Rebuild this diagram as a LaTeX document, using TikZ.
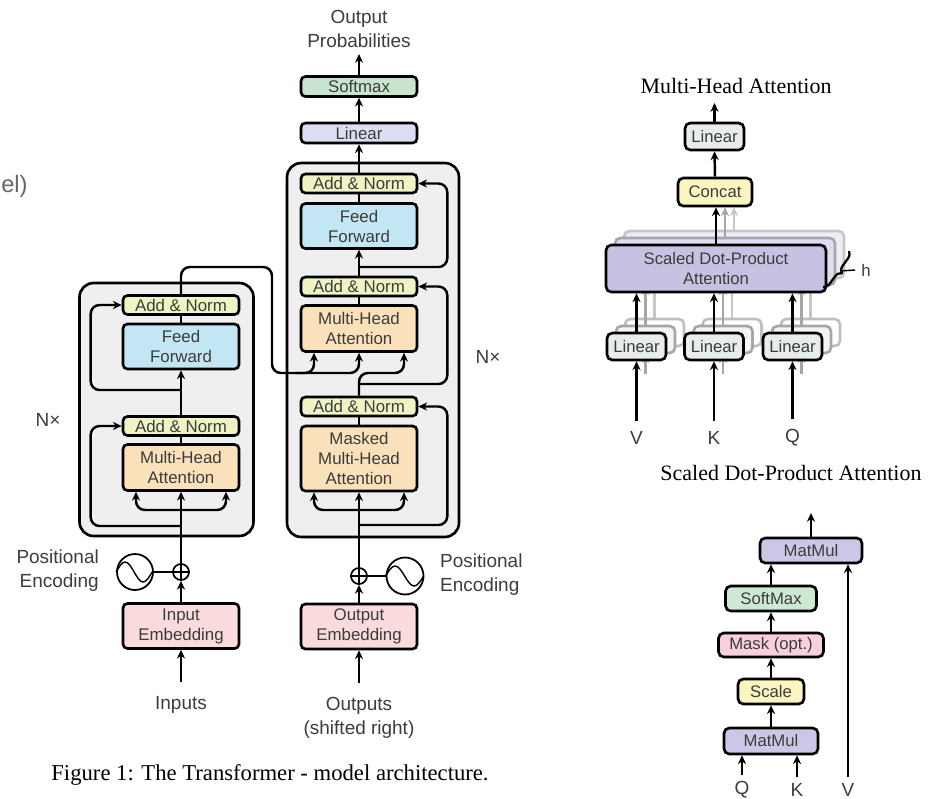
\documentclass[tikz,border=0pt]{standalone}
\usepackage{fontspec}
\setmainfont{Liberation Serif}
\newfontfamily\helv{Liberation Sans}
\usepackage{xcolor}
\usetikzlibrary{arrows.meta, positioning, calc, decorations.pathreplacing}
\definecolor{addnormyellow}{RGB}{240, 243, 196}
\definecolor{ffblue}{RGB}{195, 230, 245}
\definecolor{attnorange}{RGB}{251, 225, 186}
\definecolor{embpink}{RGB}{249, 218, 221}
\definecolor{softgreen}{RGB}{201, 228, 206}
\definecolor{linlavender}{RGB}{219, 222, 240}
\definecolor{stackgray}{RGB}{239, 239, 239}
\definecolor{txtgray}{RGB}{60, 60, 60}
\definecolor{lingray}{RGB}{232, 236, 235}
\definecolor{concatyellow}{RGB}{251, 245, 192}
\definecolor{sdpapurple}{RGB}{201, 193, 226}
\definecolor{maskpink}{RGB}{247, 208, 220}
\definecolor{matpurple}{RGB}{205, 198, 230}
\definecolor{sdgreen}{RGB}{205, 232, 211}
\newcommand{\boxfont}{\helv\fontsize{9.6}{11.4}\selectfont}
\newcommand{\lblfont}{\helv\fontsize{10.8}{13.6}\selectfont}
\newcommand{\mhfont}{\helv\fontsize{9.5}{11.4}\selectfont}
\newcommand{\headfont}{\rmfamily\fontsize{12.5}{15}\selectfont}

\begin{document}
\begin{tikzpicture}[
    x=0.02cm, y=-0.02cm,
    block/.style={rectangle, rounded corners=2.5pt, draw=black, line width=1.5pt, text=txtgray,
                  align=center, inner sep=0pt, font=\boxfont},
    enc/.style={block, minimum width=2.32cm},
    addnorm/.style={enc, fill=addnormyellow, minimum height=0.38cm},
    feedfwd/.style={enc, fill=ffblue, minimum height=0.9cm},
    attn/.style={enc, fill=attnorange, minimum height=0.92cm},
    embbox/.style={enc, fill=embpink, minimum height=0.9cm},
    encstack/.style={rectangle, rounded corners=8pt, draw=black, line width=1.5pt, fill=stackgray},
    mhbox/.style={block, rounded corners=3pt, font=\mhfont},
    conn/.style={line width=1.4pt, rounded corners=5pt},
    flow/.style={conn, -{Stealth[length=5pt, width=4.6pt]}},
    lbl/.style={font=\lblfont, text=txtgray, align=center},
    ring/.style={circle, draw=black, line width=1pt, inner sep=0pt}
]
    \useasboundingbox (0,0) rectangle (938,799);

    % Cut-off text at the left border
    \node[font=\helv\fontsize{13.5}{16}\selectfont, text=black!60, anchor=east, inner sep=0pt] (cutText) at (28,186) {el)};

    % Encoder
    \node[encstack, minimum width=3.48cm, minimum height=5.06cm] (encStack) at (166.5,409.5) {};
    \node[addnorm] (encAdd2) at (181,305) {Add \& Norm};
    \node[feedfwd] (encFF) at (181,346.5) {Feed\\Forward};
    \node[addnorm] (encAdd1) at (181,426) {Add \& Norm};
    \node[attn] (encMHA) at (181,467.5) {Multi-Head\\Attention};
    \node[embbox] (inEmb) at (181,626) {Input\\Embedding};
    \node[ring, minimum size=0.32cm] (encPlus) at (181,572) {};
    \node[ring, minimum size=0.72cm] (encSine) at (135,572) {};
    \draw[line width=0.8pt] (encPlus.north) -- (encPlus.south) (encPlus.west) -- (encPlus.east);
    \draw[line width=0.8pt] (encSine.west) sin ++(9,-10) cos ++(9,10) sin ++(9,10) cos ++(9,-10);
    \node[lbl, anchor=north] (inputs) at (181,690) {Inputs};
    \node[lbl, align=right, anchor=east] (encPos) at (105,571) {Positional\\Encoding};
    \node[lbl] (encN) at (48,420) {N×};

    % Decoder
    \node[encstack, minimum width=3.44cm, minimum height=7.48cm] (decStack) at (373,350) {};
    \node[enc, fill=softgreen, minimum height=0.4cm] (softmax) at (359,86.5) {Softmax};
    \node[enc, fill=linlavender, minimum height=0.4cm] (linear) at (359,133) {Linear};
    \node[addnorm] (decAdd3) at (359,183.5) {Add \& Norm};
    \node[feedfwd] (decFF) at (359,226) {Feed\\Forward};
    \node[addnorm] (decAdd2) at (359,286.5) {Add \& Norm};
    \node[attn] (decMHA) at (359,328.5) {Multi-Head\\Attention};
    \node[addnorm] (decAdd1) at (359,406.5) {Add \& Norm};
    \node[attn, minimum height=1.3cm] (decMasked) at (359,458.5) {Masked\\Multi-Head\\Attention};
    \node[embbox] (outEmb) at (359,626.5) {Output\\Embedding};
    \node[ring, minimum size=0.32cm] (decPlus) at (359,576) {};
    \node[ring, minimum size=0.74cm] (decSine) at (405,576) {};
    \draw[line width=0.8pt] (decPlus.north) -- (decPlus.south) (decPlus.west) -- (decPlus.east);
    \draw[line width=0.8pt] (decSine.west) sin ++(9.5,-10) cos ++(9.5,10) sin ++(9.5,10) cos ++(9.5,-10);
    \node[lbl, anchor=north] (outputs) at (359,691) {Outputs\\(shifted right)};
    \node[lbl, anchor=south] (outProb) at (359,54) {Output\\Probabilities};
    \node[lbl, align=left, anchor=west] (decPos) at (434,575) {Positional\\Encoding};
    \node[lbl] (decN) at (488,357) {N×};

    % Encoder connectors
    \draw[flow] ([yshift=0.16cm]inputs.north) -- (inEmb.south);
    \draw[flow] (inEmb.north) -- (encPlus.south);
    \draw[conn] (encPlus.west) -- (encSine.east);
    \draw[flow] (encPlus.north) -- (encMHA.south);
    \draw[flow] (181,510) -| ([xshift=-0.9cm]encMHA.south);
    \draw[flow] (181,510) -| ([xshift=0.9cm]encMHA.south);
    \draw[flow] (181,526) -| ([xshift=-0.62cm]encAdd1.west) -- (encAdd1.west);
    \draw[conn] (encMHA.north) -- (encAdd1.south);
    \draw[flow] (encAdd1.north) -- (encFF.south);
    \draw[flow] (181,390) -| ([xshift=-0.62cm]encAdd2.west) -- (encAdd2.west);
    \draw[conn] (encFF.north) -- (encAdd2.south);

    % Encoder output into decoder
    \draw[flow] (encAdd2.north) -- (181,267) -- (272,267) -- (272,373) -| ([xshift=-0.9cm]decMHA.south);
    \draw[flow] (295,373) -| (decMHA.south);

    % Decoder connectors
    \draw[flow] ([yshift=0.16cm]outputs.north) -- (outEmb.south);
    \draw[flow] (outEmb.north) -- (decPlus.south);
    \draw[conn] (decPlus.east) -- (decSine.west);
    \draw[flow] (decPlus.north) -- (decMasked.south);
    \draw[flow] (359,510) -| ([xshift=-0.9cm]decMasked.south);
    \draw[flow] (359,510) -| ([xshift=0.9cm]decMasked.south);
    \draw[flow] (359,525) -| ([xshift=0.58cm]decAdd1.east) -- (decAdd1.east);
    \draw[conn] (decMasked.north) -- (decAdd1.south);
    \draw[flow] (decAdd1.north) -- (359,373) -| ([xshift=0.9cm]decMHA.south);
    \draw[flow] (359,384) -| ([xshift=0.58cm]decAdd2.east) -- (decAdd2.east);
    \draw[conn] (decMHA.north) -- (decAdd2.south);
    \draw[flow] (decAdd2.north) -- (decFF.south);
    \draw[flow] (359,267) -| ([xshift=0.58cm]decAdd3.east) -- (decAdd3.east);
    \draw[conn] (decFF.north) -- (decAdd3.south);
    \draw[flow] (decAdd3.north) -- (linear.south);
    \draw[flow] (linear.north) -- (softmax.south);
    \draw[flow] (softmax.north) -- (outProb.south);

    % Multi-Head Attention
    \node[font=\headfont] (mhaTitle) at (736,86) {Multi-Head Attention};
    \node[mhbox, fill=concatyellow, minimum width=1.48cm, minimum height=0.56cm] (concat) at (715,192) {Concat};
    \node[mhbox, fill=lingray, minimum width=1.18cm, minimum height=0.54cm] (mhLinear) at (714.5,136.5) {Linear};
    \coordinate (mhOut) at (714.5,103);

    % heads behind (second and third copy)
    \node[mhbox, fill=sdpapurple!30, draw=gray!45, minimum width=4.4cm, minimum height=0.94cm] (sdpaC) at (734,254.5) {};
    \node[mhbox, fill=white, draw=gray!50, minimum width=1.18cm, minimum height=0.54cm] (linVC) at (654.5,332.5) {};
    \node[mhbox, fill=white, draw=gray!50, minimum width=1.18cm, minimum height=0.54cm] (linKC) at (732,332.5) {};
    \node[mhbox, fill=white, draw=gray!50, minimum width=1.18cm, minimum height=0.54cm] (linQC) at (810.5,332.5) {};
    \draw[flow, gray!45] (linVC.north) -- (linVC.north |- sdpaC.south);
    \draw[flow, gray!45] (linKC.north) -- (linKC.north |- sdpaC.south);
    \draw[flow, gray!45] (linQC.north) -- (linQC.north |- sdpaC.south);
    \draw[flow, gray!45] (sdpaC.north) -- (sdpaC.north |- concat.south);

    \node[mhbox, fill=sdpapurple!55, draw=gray!70, minimum width=4.4cm, minimum height=0.94cm] (sdpaB) at (725,261.5) {};
    \node[mhbox, fill=lingray!50, draw=gray!70, minimum width=1.18cm, minimum height=0.54cm] (linVB) at (645.5,339.5) {};
    \node[mhbox, fill=lingray!50, draw=gray!70, minimum width=1.18cm, minimum height=0.54cm] (linKB) at (723,339.5) {};
    \node[mhbox, fill=lingray!50, draw=gray!70, minimum width=1.18cm, minimum height=0.54cm] (linQB) at (801.5,339.5) {};
    \draw[flow, gray!70] (linVB.north) -- (linVB.north |- sdpaB.south);
    \draw[flow, gray!70] (linKB.north) -- (linKB.north |- sdpaB.south);
    \draw[flow, gray!70] (linQB.north) -- (linQB.north |- sdpaB.south);
    \draw[flow, gray!70] (sdpaB.north) -- (sdpaB.north |- concat.south);
    \draw[flow, gray!70] (645.5,374) -- (linVB.south);
    \draw[flow, gray!70] (723,374) -- (linKB.south);
    \draw[flow, gray!70] (801.5,374) -- (linQB.south);

    % front head
    \node[mhbox, fill=sdpapurple, minimum width=4.4cm, minimum height=0.94cm] (sdpa) at (716,268.5) {Scaled Dot-Product\\Attention};
    \node[mhbox, fill=lingray, minimum width=1.18cm, minimum height=0.54cm] (linV) at (636.5,346.5) {Linear};
    \node[mhbox, fill=lingray, minimum width=1.18cm, minimum height=0.54cm] (linK) at (714,346.5) {Linear};
    \node[mhbox, fill=lingray, minimum width=1.18cm, minimum height=0.54cm] (linQ) at (792.5,346.5) {Linear};
    \node[lbl] (vIn) at (636.5,438) {V};
    \node[lbl] (kIn) at (714,438) {K};
    \node[lbl] (qIn) at (792.5,438) {Q};
    \draw[flow] ([yshift=0.08cm]vIn.north) -- (linV.south);
    \draw[flow] ([yshift=0.08cm]kIn.north) -- (linK.south);
    \draw[flow] ([yshift=0.08cm]qIn.north) -- (linQ.south);
    \draw[flow] (linV.north) -- (linV.north |- sdpa.south);
    \draw[flow] (linK.north) -- (linK.north |- sdpa.south);
    \draw[flow] (linQ.north) -- (linQ.north |- sdpa.south);
    \draw[flow] (sdpa.north) -- (sdpa.north |- concat.south);
    \draw[flow] (concat.north) -- (mhLinear.south);
    \draw[flow] (mhLinear.north) -- (mhOut);

    % h brace
    \draw[line width=1.3pt, decorate, decoration={brace, amplitude=4pt}] (849,251) -- (823,287);
    \node[font=\mhfont, text=txtgray] (hLbl) at (866,270) {h};
    \coordinate (hTip) at (840,271);
    \draw[line width=0.8pt] (hTip) -- (hLbl.west);

    % Scaled Dot-Product Attention
    \node[font=\headfont] (sdTitle) at (791,473) {Scaled Dot-Product Attention};
    \node[mhbox, fill=matpurple, minimum width=2.04cm, minimum height=0.5cm] (sdMatTop) at (811,550.5) {MatMul};
    \node[mhbox, fill=sdgreen, minimum width=1.82cm, minimum height=0.5cm] (sdSoft) at (771,598.5) {SoftMax};
    \node[mhbox, fill=maskpink, minimum width=2.1cm, minimum height=0.48cm] (sdMask) at (771,645) {Mask (opt.)};
    \node[mhbox, fill=concatyellow, minimum width=1.32cm, minimum height=0.5cm] (sdScale) at (771,691.5) {Scale};
    \node[mhbox, fill=matpurple, minimum width=1.88cm, minimum height=0.52cm] (sdMatBot) at (771,741) {MatMul};
    \coordinate (sdOut) at (811,513);
    \node[lbl] (sdQ) at (742,790) {Q};
    \node[lbl] (sdK) at (797,790) {K};
    \node[lbl] (sdV) at (848,790) {V};
    \draw[flow] (sdQ.north) -- (sdQ.north |- sdMatBot.south);
    \draw[flow] (sdK.north) -- (sdK.north |- sdMatBot.south);
    \draw[flow] (sdV.north) -- (sdV.north |- sdMatTop.south);
    \draw[flow] (sdMatBot.north) -- (sdScale.south);
    \draw[flow] (sdScale.north) -- (sdMask.south);
    \draw[flow] (sdMask.north) -- (sdSoft.south);
    \draw[flow] (sdSoft.north) -- (sdSoft.north |- sdMatTop.south);
    \draw[flow] (sdMatTop.north) -- (sdOut);

    % Caption
    \node[font=\rmfamily\fontsize{12.9}{15}\selectfont] (caption) at (270,775) {Figure 1: The Transformer - model architecture.};
\end{tikzpicture}
\end{document}
